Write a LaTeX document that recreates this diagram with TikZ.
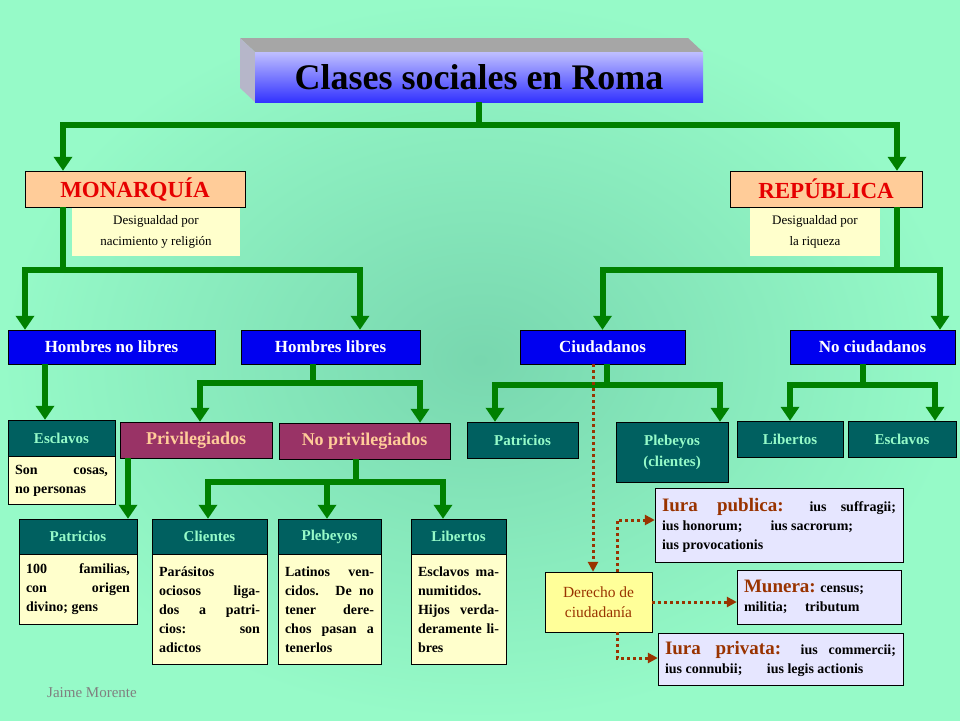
\documentclass[tikz,border=0pt]{standalone}
\usepackage{fontspec}
\setmainfont{Liberation Serif}
\usetikzlibrary{positioning,arrows.meta}
\definecolor{mint}{RGB}{150,250,200}
\definecolor{mintdark}{RGB}{120,215,175}
\definecolor{gline}{RGB}{0,128,0}
\definecolor{hblue}{RGB}{0,0,240}
\definecolor{teal}{RGB}{0,96,96}
\definecolor{maroon}{RGB}{153,51,102}
\definecolor{peach}{RGB}{255,204,153}
\definecolor{cream}{RGB}{255,255,204}
\definecolor{dyellow}{RGB}{255,255,153}
\definecolor{lav}{RGB}{230,230,255}
\definecolor{brn}{RGB}{153,51,0}
\definecolor{hredtxt}{RGB}{230,0,0}
\tikzset{
  fs/.style 2 args={font=\fontsize{#1}{#2}\selectfont\bfseries},
  level1/.style={draw=black,fill=peach,text=hredtxt,fs={23}{26}},
  level2/.style={draw=black,fill=hblue,text=white,fs={17}{20},minimum height=34pt},
  tealbox/.style={draw=black,fill=teal,text=mint,fs={15}{21},minimum height=36pt,align=center},
  privbox/.style={draw=black,fill=maroon,text=peach,fs={18}{20},minimum height=36pt},
  bodybox/.style={draw=black,fill=cream,fs={14}{19},align=justify,anchor=north,inner sep=7pt},
  note/.style={fill=cream,font=\fontsize{13}{21}\selectfont,align=center},
  iura/.style={draw=black,fill=lav,fs={14}{19},align=justify,inner sep=7pt},
  gl/.style={draw=gline,line width=6pt},
  garr/.style={gl,-{Triangle[length=14pt,width=18pt]}},
  darr/.style={draw=brn,line width=3pt,dash pattern=on 3pt off 3pt,-{Triangle[length=10pt,width=10pt]}},
}
\begin{document}
\begin{tikzpicture}[x=1pt,y=-1pt]
  % background
  \path[inner color=mintdark,outer color=mint] (0,0) rectangle (960,720);
  \useasboundingbox (0,0) rectangle (960,720);

  % title block
  \fill[gray!70] (240,38) -- (688,38) -- (703,52) -- (255,52) -- cycle;
  \fill[gray!85!blue!50] (240,38) -- (255,52) -- (255,102) -- (240,88) -- cycle;
  \node[top color=blue!25!white,bottom color=blue!80,minimum width=448pt,minimum height=50pt,
        fs={36}{40}] (title) at (479,77) {Clases sociales en Roma};

  % first level
  \node[level1,minimum width=220pt,minimum height=36pt] (mon) at (135,189) {MONARQUÍA};
  \node[level1,minimum width=192pt,minimum height=36pt] (rep) at (826,189) {REPÚBLICA};
  \node[note,minimum width=168pt,minimum height=48pt] (desM) at (156,232) {Desigualdad por\\nacimiento y religión};
  \node[note,minimum width=130pt,minimum height=48pt] (desR) at (815,232) {Desigualdad por\\la riqueza};

  % second level
  \node[level2,minimum width=207pt] (hnl) at (111.5,347) {Hombres no libres};
  \node[level2,minimum width=179pt] (hl) at (330.5,347) {Hombres libres};
  \node[level2,minimum width=165pt] (ciu) at (602.5,347) {Ciudadanos};
  \node[level2,minimum width=165pt] (nciu) at (872.5,347) {No ciudadanos};

  % third level
  \node[tealbox,minimum width=107pt] (esc) at (61.5,438) {Esclavos};
  \node[bodybox,text width=93pt,minimum height=48pt] (escB) at (esc.south) {Son cosas,\linebreak no personas};
  \node[privbox,minimum width=152pt] (priv) at (196,440) {Privilegiados};
  \node[privbox,minimum width=171pt] (npriv) at (364.5,441) {No privilegiados};
  \node[tealbox,minimum width=111pt] (patC) at (522.5,440) {Patricios};
  \node[tealbox,minimum width=112pt,minimum height=60pt] (pleC) at (672,452) {Plebeyos\\(clientes)};
  \node[tealbox,minimum width=106pt] (libC) at (790,439) {Libertos};
  \node[tealbox,minimum width=108pt] (escC) at (902,439) {Esclavos};

  % fourth level
  \node[tealbox,minimum width=118pt,minimum height=35pt] (pat) at (78,536.5) {Patricios};
  \node[bodybox,text width=104pt,minimum height=70pt] (patB) at (pat.south) {100 familias,\linebreak con origen\linebreak divino; gens};
  \node[tealbox,minimum width=115pt,minimum height=35pt] (cli) at (209.5,536.5) {Clientes};
  \node[bodybox,text width=101pt,minimum height=110pt] (cliB) at (cli.south) {Parásitos\\ociosos liga-\linebreak dos a patri-\linebreak cios: son\linebreak adictos};
  \node[tealbox,minimum width=103pt,minimum height=35pt] (ple) at (329.5,536.5) {Plebeyos};
  \node[bodybox,text width=89pt,minimum height=110pt] (pleB) at (ple.south) {Latinos ven-\linebreak cidos. De no\linebreak tener dere-\linebreak chos pasan a\linebreak tenerlos};
  \node[tealbox,minimum width=95pt,minimum height=35pt] (lib) at (458.5,536.5) {Libertos};
  \node[bodybox,text width=81pt,minimum height=110pt] (libB) at (lib.south) {Esclavos ma-\linebreak numitidos.\\Hijos verda-\linebreak deramente li-\linebreak bres};

  % rights
  \node[draw=black,fill=dyellow,text=brn,minimum width=107pt,minimum height=60pt,align=center,
        font=\fontsize{15.5}{20}\selectfont] (der) at (598.5,602) {Derecho de\\ciudadanía};
  \node[iura,text width=234pt,minimum height=74pt] (ipub) at (779,525)
    {{\color{brn}\fontsize{19}{19}\selectfont Iura publica:} ius suffragii;\linebreak ius honorum;\hspace{2em}ius sacrorum;\\ius provocationis};
  \node[iura,text width=150pt,minimum height=54pt] (mun) at (819,597)
    {{\color{brn}\fontsize{19}{19}\selectfont Munera:} census;\\militia;\hspace{1em} tributum};
  \node[iura,text width=231pt,minimum height=52pt] (ipriv) at (780.5,659)
    {{\color{brn}\fontsize{19}{19}\selectfont Iura privata:} ius commercii;\linebreak ius connubii;\hspace{1.5em} ius legis actionis};

  \node[text=gray,font=\fontsize{15}{15}\selectfont] (autor) at (92,693) {Jaime Morente};

  % green connectors
  \coordinate (t1) at (479,125);
  \draw[gl] (title.south) -- (t1);
  \draw[garr] (t1) -| ([xshift=-72pt]mon.north);
  \draw[garr] (t1) -| ([xshift=71pt]rep.north);

  \coordinate (m1) at (63,270);
  \draw[gl] ([xshift=-72pt]mon.south) -- (m1);
  \draw[garr] (m1) -| ([xshift=-86.5pt]hnl.north);
  \draw[garr] (m1) -| ([xshift=29.5pt]hl.north);
  \coordinate (r1) at (897,270);
  \draw[gl] ([xshift=71pt]rep.south) -- (r1);
  \draw[garr] (r1) -| (ciu.north);
  \draw[garr] (r1) -| ([xshift=67.5pt]nciu.north);

  \draw[garr] ([xshift=-66.5pt]hnl.south) -- ([xshift=-16.5pt]esc.north);
  \coordinate (h1) at (313,383);
  \draw[gl] ([xshift=-17.5pt]hl.south) -- (h1);
  \draw[garr] (h1) -| ([xshift=4pt]priv.north);
  \draw[garr] (h1) -| ([xshift=55.5pt]npriv.north);
  \coordinate (c1) at (607,385);
  \draw[gl] ([xshift=4.5pt]ciu.south) -- (c1);
  \draw[garr] (c1) -| ([xshift=-27.5pt]patC.north);
  \draw[garr] (c1) -| ([xshift=48pt]pleC.north);
  \coordinate (n1) at (863,385);
  \draw[gl] ([xshift=-9.5pt]nciu.south) -- (n1);
  \draw[garr] (n1) -| (libC.north);
  \draw[garr] (n1) -| ([xshift=33pt]escC.north);

  \draw[garr] ([xshift=-68pt]priv.south) -- ([xshift=50pt]pat.north);
  \coordinate (p1) at (356,482);
  \draw[gl] ([xshift=-8.5pt]npriv.south) -- (p1);
  \draw[garr] (p1) -| ([xshift=-1.5pt]cli.north);
  \draw[garr] (p1) -| ([xshift=-2.5pt]ple.north);
  \draw[garr] (p1) -| ([xshift=-15.5pt]lib.north);

  % dotted connectors
  \draw[darr] ([xshift=-9.5pt]ciu.south) -- ([xshift=-5.5pt]der.north);
  \coordinate (d1) at (617,520);
  \coordinate (d2) at (617,658);
  \draw[darr] ([xshift=18.5pt]der.north) -- (d1) -- (d1 -| ipub.west);
  \draw[darr] (der.east) -- (der.east -| mun.west);
  \draw[darr] ([xshift=18.5pt]der.south) -- (d2) -- (d2 -| ipriv.west);
\end{tikzpicture}
\end{document}
